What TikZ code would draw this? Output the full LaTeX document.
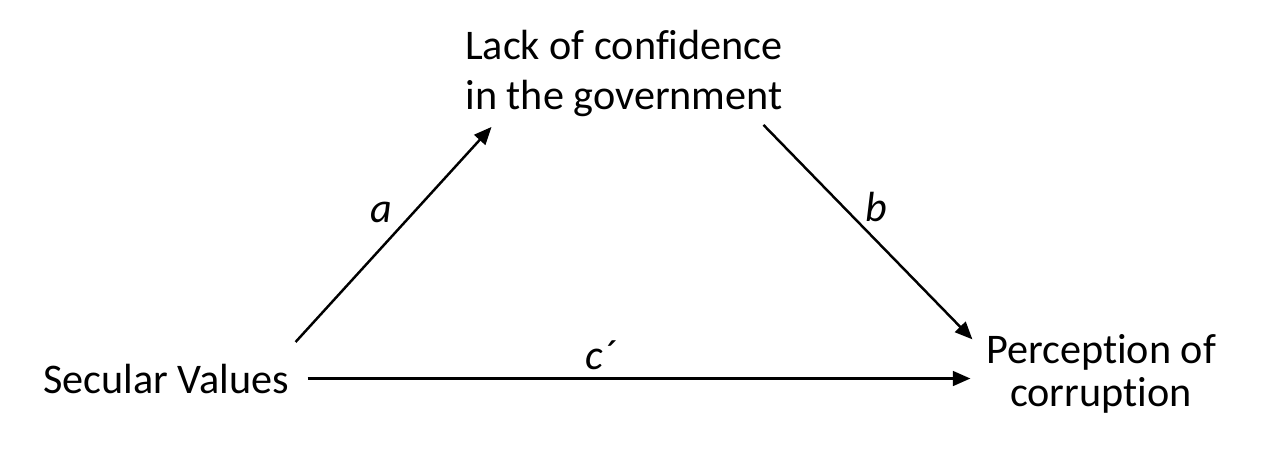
\documentclass[tikz,border=0pt]{standalone}
\usepackage{fontspec}
\setmainfont{Carlito}[Ligatures=NoCommon]
\usepackage{tikz}
\usetikzlibrary{arrows.meta}
\usetikzlibrary{positioning}

\begin{document}
\begin{tikzpicture}[x=0.01cm, y=0.01cm,
        var/.style={align=center, inner sep=0pt, anchor=base, font=\fontsize{12}{14.2}\selectfont},
        coef/.style={font=\fontsize{12}{14.2}\selectfont\itshape},
        conn/.style={line width=0.7pt, -{Triangle[length=5pt, width=4.2pt]}}]
    \useasboundingbox (0, 0) rectangle (1280, 454);
    % base anchor sits on the last line
    \node[var] (lack) at (624, 345) {Lack of confidence\\in the government};
    \node[var] (secular) at (166, 61) {Secular Values};
    \node[var, font=\fontsize{12}{12.2}\selectfont] (percep) at (1101, 48) {Perception of\\corruption};
    \draw[conn] ([shift={(6,21)}]secular.north east) -- ([shift={(27,-10)}]lack.south west);
    \draw[conn] ([shift={(-20,-8)}]lack.south east) -- ([shift={(-13,-6)}]percep.north west);
    \draw[conn] ([shift={(18,0)}]secular.east) -- ([shift={(-15,0)}]secular.east -| percep.west);
    \node[coef] (a) at (381, 242) {a};
    \node[coef] (b) at (876, 247) {b};
    \node[coef] (c) at (600, 99) {c´};
\end{tikzpicture}
\end{document}
